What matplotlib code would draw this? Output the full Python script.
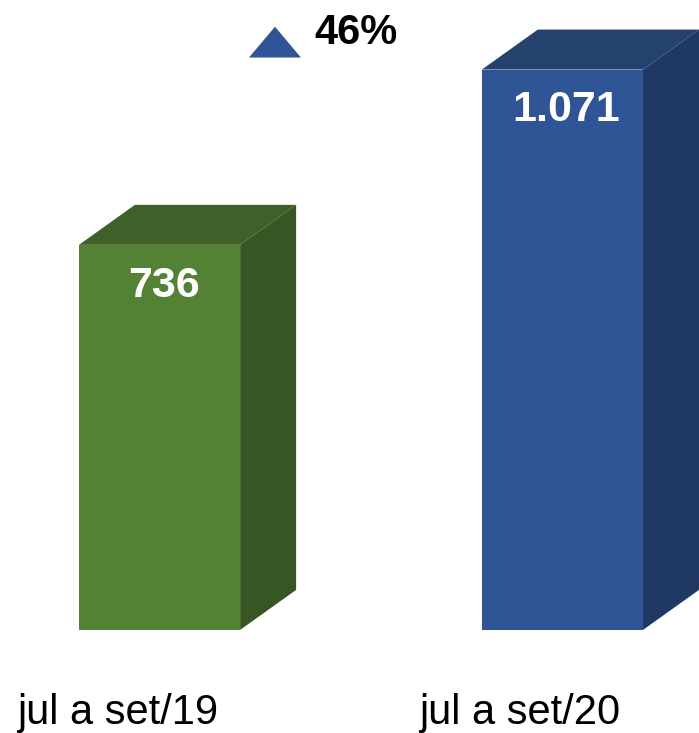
import matplotlib
matplotlib.use('Agg')
import matplotlib.pyplot as plt
from matplotlib.patches import Polygon

# data
categories = ['jul a set/19', 'jul a set/20']
values = [736, 1071]
value_labels = ['736', '1.071']
front_colors = ['#548235', '#2F5597']
top_colors = ['#3F6129', '#25426F']
side_colors = ['#375623', '#203864']

plt.rcParams['font.family'] = ['Liberation Sans', 'DejaVu Sans']

fig = plt.figure(figsize=(6.99, 7.33), dpi=100)
ax = fig.add_axes([0, 0, 1, 1])
ax.set_xlim(-0.396, 1.339)
ax.set_ylim(-197, 1204)
ax.axis('off')

width = 0.4
dx = 0.139   # depth offset in x
dy = 76.5    # depth offset in y

x = list(range(len(values)))
ax.bar(x, values, width=width, color=front_colors, zorder=2)

for xi, v, tc, sc, lab in zip(x, values, top_colors, side_colors, value_labels):
    left, right = xi - width / 2, xi + width / 2
    top = Polygon([(left, v), (left + dx, v + dy), (right + dx, v + dy), (right, v)],
                  closed=True, facecolor=tc, edgecolor='none', zorder=1)
    side = Polygon([(right, 0), (right + dx, dy), (right + dx, v + dy), (right, v)],
                   closed=True, facecolor=sc, edgecolor='none', zorder=1)
    ax.add_patch(top)
    ax.add_patch(side)
    ax.text(xi + 0.01, v - 78, lab, ha='center', va='center', color='white',
            fontsize=31, fontweight='bold', zorder=3)

for xi, cat in zip(x, categories):
    ax.text(xi - 0.105, -180, cat, ha='center', va='baseline', color='black', fontsize=30)

# variation marker
pct = round((values[1] / values[0] - 1) * 100)
tri = Polygon([(0.222, 1094), (0.351, 1094), (0.2865, 1153)], closed=True,
              facecolor='#2F5597', edgecolor='none')
ax.add_patch(tri)
ax.text(0.385, 1141, f'{pct}%', ha='left', va='center', color='black',
        fontsize=30, fontweight='bold')

fig.savefig('out.png', dpi=100)
